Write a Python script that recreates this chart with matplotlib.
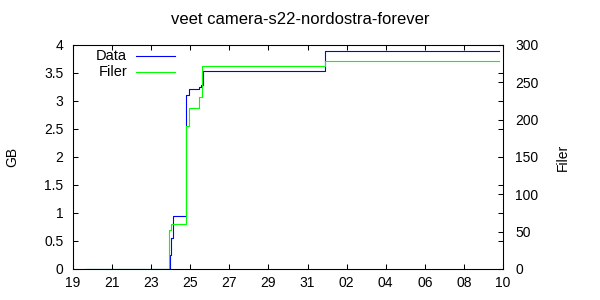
import matplotlib
matplotlib.use("Agg")
import matplotlib.pyplot as plt
import matplotlib.dates as mdates
import pandas as pd

plt.rcParams['font.family'] = ['Liberation Sans', 'DejaVu Sans']
plt.rcParams['font.size'] = 10

title = "veet camera-s22-nordostra-forever"

data_times = ["2022-07-19 14:38", "2022-07-23 23:02", "2022-07-24 00:43", "2022-07-24 03:07",
              "2022-07-24 18:43", "2022-07-24 22:19", "2022-07-25 10:48", "2022-07-25 13:12",
              "2022-07-25 15:36", "2022-07-31 21:22", "2022-08-09 18:58"]
data_gb = [0, 0.25, 0.55, 0.95, 3.11, 3.21, 3.25, 3.29, 3.53, 3.89, 3.89]

filer_times = ["2022-07-19 14:38", "2022-07-23 21:50", "2022-07-24 00:00", "2022-07-24 19:12",
               "2022-07-24 22:05", "2022-07-25 10:48", "2022-07-25 14:24", "2022-07-31 21:22",
               "2022-08-09 18:58"]
filer_n = [0, 52, 60, 191, 216, 230, 272, 278, 278]

x_start, x_end = "2022-07-19", "2022-08-10"
gb_ticks = [0, 0.5, 1, 1.5, 2, 2.5, 3, 3.5, 4]
gb_labels = ["0", "0.5", "1", "1.5", "2", "2.5", "3", "3.5", "4"]
filer_ticks = [0, 50, 100, 150, 200, 250, 300]

blue = "#0000ff"
green = "#00ff00"

fig = plt.figure(figsize=(6, 3), dpi=100)
ax = fig.add_axes([73/600, 31/300, 430/600, 224/300])
ax2 = ax.twinx()

ax.step(pd.to_datetime(data_times), data_gb, where='post', color=blue, lw=0.8)
ax2.step(pd.to_datetime(filer_times), filer_n, where='post', color=green, lw=0.8)

ax.set_xlim(pd.Timestamp(x_start), pd.Timestamp(x_end))
ax.set_ylim(0, 4)
ax2.set_ylim(0, 300)

xt = pd.date_range(x_start, x_end, freq='2D')
ax.set_xticks(xt)
ax.xaxis.set_major_formatter(mdates.DateFormatter('%d'))
ax.set_yticks(gb_ticks)
ax.set_yticklabels(gb_labels)
ax2.set_yticks(filer_ticks)

for a in (ax, ax2):
    for s in a.spines.values():
        s.set_linewidth(0.75)
ax.tick_params(direction='in', length=3.5, width=0.75, top=True, right=True,
               labelright=False)
ax.tick_params(axis='y', pad=7)
ax.tick_params(axis='x', pad=5)
ax2.tick_params(direction='in', length=3.5, width=0.75, pad=9)

ax.set_ylabel("GB")
ax.yaxis.set_label_coords((19 - 73) / 430, 0.5)
ax2.set_ylabel("Filer")
ax2.yaxis.set_label_coords((556 - 73) / 430, 0.5)

fig.text(0.5, 1 - 20/300, title, ha='center', va='center', fontsize=12)

# legend (manual, gnuplot style)
for label, col, ypix in (("Data", blue, 56), ("Filer", green, 72)):
    ya = (269 - ypix) / 224
    ax.text((127 - 73) / 430, ya, label, transform=ax.transAxes, ha='right', va='center',
            fontsize=10.5)
    ax.plot([(136 - 73) / 430, (175 - 73) / 430], [ya, ya], transform=ax.transAxes,
            color=col, lw=0.8, clip_on=False)

fig.savefig("out.png", dpi=100)
